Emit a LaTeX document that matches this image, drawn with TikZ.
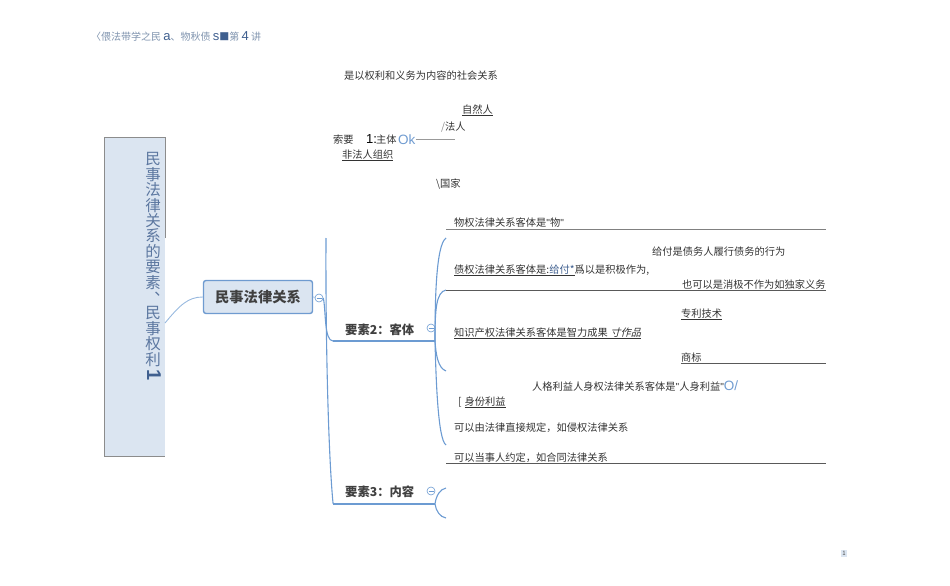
\documentclass[tikz,border=0pt]{standalone}
\usepackage{fontspec}
\setmainfont{Noto Sans CJK SC}
\newfontfamily\latinfont{Liberation Sans}
\newfontfamily\slantfont[FakeSlant=0.25]{Noto Sans CJK SC}
\usetikzlibrary{positioning}
\definecolor{boxfill}{HTML}{DBE5F1}
\definecolor{boxline}{HTML}{6F9BD0}
\definecolor{branchline}{HTML}{6C9BD2}
\definecolor{headtext}{HTML}{7F93AE}
\definecolor{headdark}{HTML}{3F5F8F}
\definecolor{bodytext}{HTML}{333333}
\tikzset{
  lbl/.style={anchor=base west,inner sep=0pt,text=bodytext,font=\fontsize{10.25}{12}\selectfont},
  topic/.style={anchor=base west,inner sep=0pt,text=black!75,font=\fontsize{12.3}{14}\selectfont\bfseries},
  rule/.style={draw=black!65,line width=0.9},
  curve/.style={draw=branchline,line width=1.1},
  fold/.style={circle,draw=branchline,inner sep=0pt,minimum size=8pt,line width=0.6}
}
\newcommand{\lbl}[4]{
\node[lbl] (#1) at (#2,#3) {#4};}
\newcommand{\fold}[3]{
\node[fold] (#1) at (#2,#3) {};
\draw[branchline,line width=0.6] (#2-2.5,#3)--(#2+2.5,#3);}

\begin{document}
\begin{tikzpicture}[x=1pt,y=-1pt]
\useasboundingbox (0,0) rectangle (950,586);

% left panel
\fill[boxfill] (104.5,137) rectangle (165,456);
\draw[black!45,line width=0.9] (165,238)--(165,137)--(104.5,137)--(104.5,456)--(165,456);
\node[inner sep=0pt,text=headdark!85,align=center,anchor=north,font=\fontsize{15.5}{15.4}\selectfont] (panel) at (153,152.5)
{民\\事\\法\\律\\关\\系\\的\\要\\素\\\raisebox{8pt}{\hspace{9pt}、\hspace{-9pt}}\\民\\事\\权\\利};
\node[inner sep=0pt,text=headdark,font=\fontsize{20}{20}\latinfont\bfseries] (panelnum) at (154,375) {\rotatebox{-90}{1}};

% header
\node[anchor=base west,inner sep=0pt,text=headtext,font=\fontsize{10}{12}\selectfont] (head) at (91,41)
{〈偎法带学之民 {\latinfont\fontsize{13}{13}\selectfont\color{headdark}a}、物秋债 {\latinfont\fontsize{13}{13}\selectfont\color{headdark}s}{\color{headdark}■}第 {\latinfont\fontsize{13}{13}\selectfont\color{headdark}4} 讲};

% root
\node[draw=boxline,fill=boxfill,rounded corners=2.5,line width=1.4,minimum width=109,minimum height=33,inner sep=0pt,
      text=black!75,font=\fontsize{14.3}{16}\selectfont\bfseries] (root) at (258,297) {民事法律关系};
\coordinate (panelout) at (165,323);
\draw[branchline!70,line width=0.9] (panelout) .. controls (180,305) and (188,297) .. (root.west);
\fold{rootfold}{319}{298}
\draw[branchline!80,line width=0.6] (root.east)--(rootfold);

% trunk
\coordinate (trunktop) at (326,238);
\coordinate (trunkend) at (333,503);
\coordinate (objstart) at (333,341);
\coordinate (objend) at (424,341);
\coordinate (cntstart) at (333,504);
\coordinate (cntend) at (424,504);
\draw[curve] (trunktop) .. controls (325.5,330) and (328,450) .. (trunkend) .. controls (334,504) and (335,504) .. (cntstart);
\draw[curve] (rootfold.east) .. controls (326,310) and (324,341) .. (objstart);

% topics
\draw[branchline,line width=2.8] (objstart)--(objend);
\draw[branchline,line width=2.8] (cntstart)--(cntend);
\node[topic] (obj) at (345,334) {要素2：客体};
\node[topic] (cnt) at (345,496) {要素3：内容};
\fold{objfold}{431}{328}
\fold{cntfold}{431}{491}

% braces
\coordinate (b1) at (446,238);
\coordinate (b2) at (446,290);
\coordinate (b3) at (446,371);
\coordinate (b4) at (446,445);
\coordinate (objhub) at (435,341);
\coordinate (cnthub) at (435,504);
\draw[curve] (objend)--(objhub);
\draw[curve] (objhub) .. controls (435,300) and (436,245) .. (b1);
\draw[curve] (objhub) .. controls (435,310) and (436,292) .. (b2);
\draw[curve] (objhub) .. controls (436,355) and (438,368) .. (b3);
\draw[curve] (objhub) .. controls (436,380) and (438,440) .. (b4);
\coordinate (c1) at (446,488);
\coordinate (c2) at (446,518);
\draw[curve] (cntend)--(cnthub);
\draw[curve] (cnthub) .. controls (436,496) and (440,489) .. (c1);
\draw[curve] (cnthub) .. controls (436,511) and (440,517) .. (c2);

% rules
\coordinate (r1a) at (446,229);
\coordinate (r1b) at (826,229);
\coordinate (r2b) at (826,290);
\coordinate (r3a) at (681,363.5);
\coordinate (r3b) at (826,363.5);
\coordinate (r4a) at (446,463);
\coordinate (r4b) at (826,463);
\draw[rule,black!50] (r1a)--(r1b);
\draw[rule] (b2)--(r2b);
\draw[rule] (r3a)--(r3b);
\draw[rule] (r4a)--(r4b);

% labels
\lbl{rel}{344}{79}{是以权利和义务为内容的社会关系}
\lbl{natural}{462}{113}{\underline{自然人}}
\lbl{legal}{441}{130}{{\color{black!45}/}法人}
\lbl{key}{333}{143}{索要}
\node[anchor=base west,inner sep=0pt,text=black,font=\fontsize{13}{13}\latinfont] (keynum) at (366,143.5) {1:};
\lbl{subj}{376}{143.5}{主体}
\node[anchor=base west,inner sep=0pt,text=boxline,font=\fontsize{13.5}{13}\latinfont] (ok) at (398,144.5) {Ok};
\draw[black!40,line width=0.6] (ok.east)--++(39,0) coordinate (okend);
\lbl{nonlegal}{342}{158}{\underline{非法人组织}}
\lbl{state}{436}{187}{\textbackslash 国家}
\lbl{thing}{454}{226}{物权法律关系客体是{\latinfont"}物{\latinfont"}}
\lbl{give}{652}{255}{给付是债务人履行债务的行为}
\lbl{debt}{454}{273}{\underline{债权法律关系客体是:{\color{headdark}给付*}}爲以是积极作为,}
\lbl{omit}{682}{288}{也可以是消极不作为如独家义务}
\lbl{patent}{681}{317}{\underline{专利技术}}
\lbl{ip}{454}{336}{\underline{知识产权法律关系客体是智力成果 {\slantfont 寸作品}}}
\lbl{mark}{681}{361}{商标}
\lbl{person}{532}{390}{人格利益人身权法律关系客体是{\latinfont"}人身利益{\latinfont"\fontsize{13.5}{13}\selectfont\color{boxline}O/}}
\lbl{status}{458}{405}{[\kern3pt\underline{身份利益}}
\lbl{bylaw}{454}{431}{可以由法律直接规定，如侵权法律关系}
\lbl{byagr}{454}{461}{可以当事人约定，如合同法律关系}
\node[anchor=center,inner sep=1pt,fill=boxfill,text=black!70,font=\fontsize{6}{6}\selectfont] (page) at (844,553.5) {1};
\end{tikzpicture}
\end{document}
